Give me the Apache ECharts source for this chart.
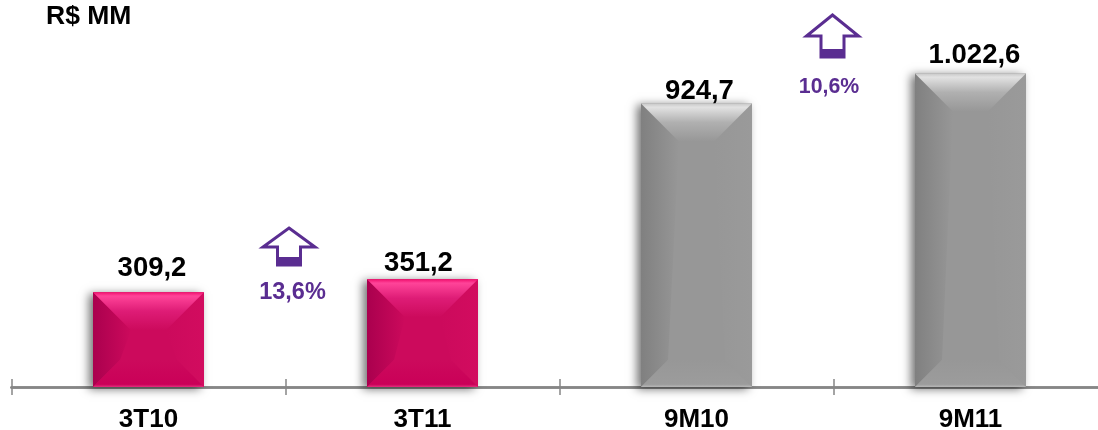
<!DOCTYPE html>
<html>
<head>
<meta charset="utf-8">
<style>html,body{margin:0;padding:0;background:#fff}#c{width:1098px;height:430px}</style>
<script src="https://cdn.jsdelivr.net/npm/echarts@6/dist/echarts.min.js"></script>
</head>
<body>
<div id="c"></div>
<script>
const categories = ['3T10', '3T11', '9M10', '9M11'];
const values = [309.2, 351.2, 924.7, 1022.6];
const valueLabels = ['309,2', '351,2', '924,7', '1.022,6'];
const labelOffsets = [[3.5, -2], [-4, -2], [3, 2], [4, 1]];
const labelGaps = [8, 0, 0, 5];
const growthLabels = ['13,6%', '10,6%'];
const unitLabel = 'R$ MM';

const FONT = '"Liberation Sans", Arial, sans-serif';
const PURPLE = '#5a2d91';
const BAR_W = 111, TOP_D = 38, BOTTOM_D = 27;
const palettes = {
  pink: {base:'#cc0a5c', top:['#f0106e','#ff4499','#de1c76','#cc0a5c'], left:['#aa004e','#cc0a5c'], right:['#d20c5f','#cc0a5c'], bottom:['#cc0a5c','#ca0058','#e42e7e']},
  gray: {base:'#979797', top:['#c8c8c8','#e2e2e2','#b0b0b0','#979797'], left:['#808080','#979797'], right:['#9a9a9a','#979797'], bottom:['#979797','#9c9c9c','#b8b8b8']}
};
const barPalette = ['pink', 'pink', 'gray', 'gray'];

function lin(x, y, x2, y2, cols, offs) {
  return {type:'linear', x, y, x2, y2, global:false,
    colorStops: cols.map((c, i) => ({offset: offs ? offs[i] : i / (cols.length - 1), color: c}))};
}
function renderBevel(params, api) {
  const i = api.value(0);
  const p0 = api.coord([i, 0]), p1 = api.coord([i, api.value(1)]);
  const x0 = p0[0] - BAR_W / 2, x1 = p0[0] + BAR_W / 2, y0 = p1[1], y1 = p0[1];
  const pal = palettes[barPalette[i]];
  const poly = (points, fill) => ({type:'polygon', shape:{points}, style:{fill}, silent:true});
  return {type:'group', children:[
    poly([[x0,y0],[x0+TOP_D,y0+TOP_D],[x0+BOTTOM_D,y1-BOTTOM_D],[x0,y1]], lin(0,0,1,0,pal.left)),
    poly([[x1,y0],[x1-TOP_D,y0+TOP_D],[x1-BOTTOM_D,y1-BOTTOM_D],[x1,y1]], lin(1,0,0,0,pal.right)),
    poly([[x0,y0],[x1,y0],[x1-TOP_D,y0+TOP_D],[x0+TOP_D,y0+TOP_D]], lin(0,0,0,1,pal.top,[0,0.1,0.5,1])),
    poly([[x0,y1],[x1,y1],[x1-BOTTOM_D,y1-BOTTOM_D],[x0+BOTTOM_D,y1-BOTTOM_D]], lin(0,1,0,0,[pal.bottom[2],pal.bottom[1],pal.bottom[0]],[0,0.1,1]))
  ]};
}
function arrow(cx, apexY, wingY, stemBottom, bandTop) {
  const w = 26, s = 11.5;
  return [
    {type:'polygon', shape:{points:[[cx,apexY],[cx+w,wingY],[cx+s,wingY],[cx+s,stemBottom],[cx-s,stemBottom],[cx-s,wingY],[cx-w,wingY]]},
     style:{fill:'#fff', stroke:PURPLE, lineWidth:3}, z:20},
    {type:'rect', shape:{x:cx-s,y:bandTop,width:s*2,height:stemBottom-bandTop+1}, style:{fill:PURPLE}, z:21}
  ];
}
const growthText = (x, y, t, size) => ({type:'text', x, y, z:21,
  style:{text:t, fill:PURPLE, font:'bold ' + size + 'px ' + FONT, textAlign:'center', textVerticalAlign:'middle'}});

const chart = echarts.init(document.getElementById('c'), null, {renderer:'canvas'});
const baseAxis = {type:'category', data:categories, position:'bottom', boundaryGap:true,
  axisLine:{show:true, onZero:false, lineStyle:{color:'#868686', width:2.5}}};
chart.setOption({
  animation:false,
  backgroundColor:'#fff',
  title:{text:unitLabel, left:41, top:-2, textStyle:{fontFamily:FONT, fontWeight:'bold', fontSize:26.5, color:'#000'}},
  grid:{left:11.5, right:-9.5, top:19, bottom:43, outerBoundsMode:'none'},
  xAxis:[
    Object.assign({}, baseAxis, {
      axisTick:{show:true, length:8, lineStyle:{color:'#868686', width:1.5}},
      axisLabel:{show:true, interval:0, color:'#000', fontFamily:FONT, fontWeight:'bold', fontSize:26, margin:20}
    }),
    Object.assign({}, baseAxis, {
      axisTick:{show:true, inside:true, length:8, lineStyle:{color:'#868686', width:1.5}},
      axisLabel:{show:false}
    })
  ],
  yAxis:{type:'value', min:0, max:1200, show:false, splitLine:{show:false}},
  series:[
    {type:'bar', barWidth:BAR_W, z:2,
     data:values.map((v, i) => ({value:v,
       itemStyle:{color:palettes[barPalette[i]].base, shadowColor:'rgba(0,0,0,0.55)', shadowBlur:9, shadowOffsetX:-4, shadowOffsetY:2},
       label:{show:true, position:'top', distance:labelGaps[i], offset:labelOffsets[i], formatter:valueLabels[i],
         color:'#000', fontFamily:FONT, fontWeight:'bold', fontSize:27.5}}))},
    {type:'custom', z:3, silent:true, clip:false, renderItem:renderBevel,
     encode:{x:0, y:1}, data:values.map((v, i) => [i, v])}
  ],
  graphic:[
    ...arrow(289, 228, 247, 265, 257),
    ...arrow(832.5, 15, 36, 57, 49),
    growthText(292.5, 293, growthLabels[0], 23.5),
    growthText(829, 87, growthLabels[1], 21.3)
  ]
});
</script>
</body>
</html>
